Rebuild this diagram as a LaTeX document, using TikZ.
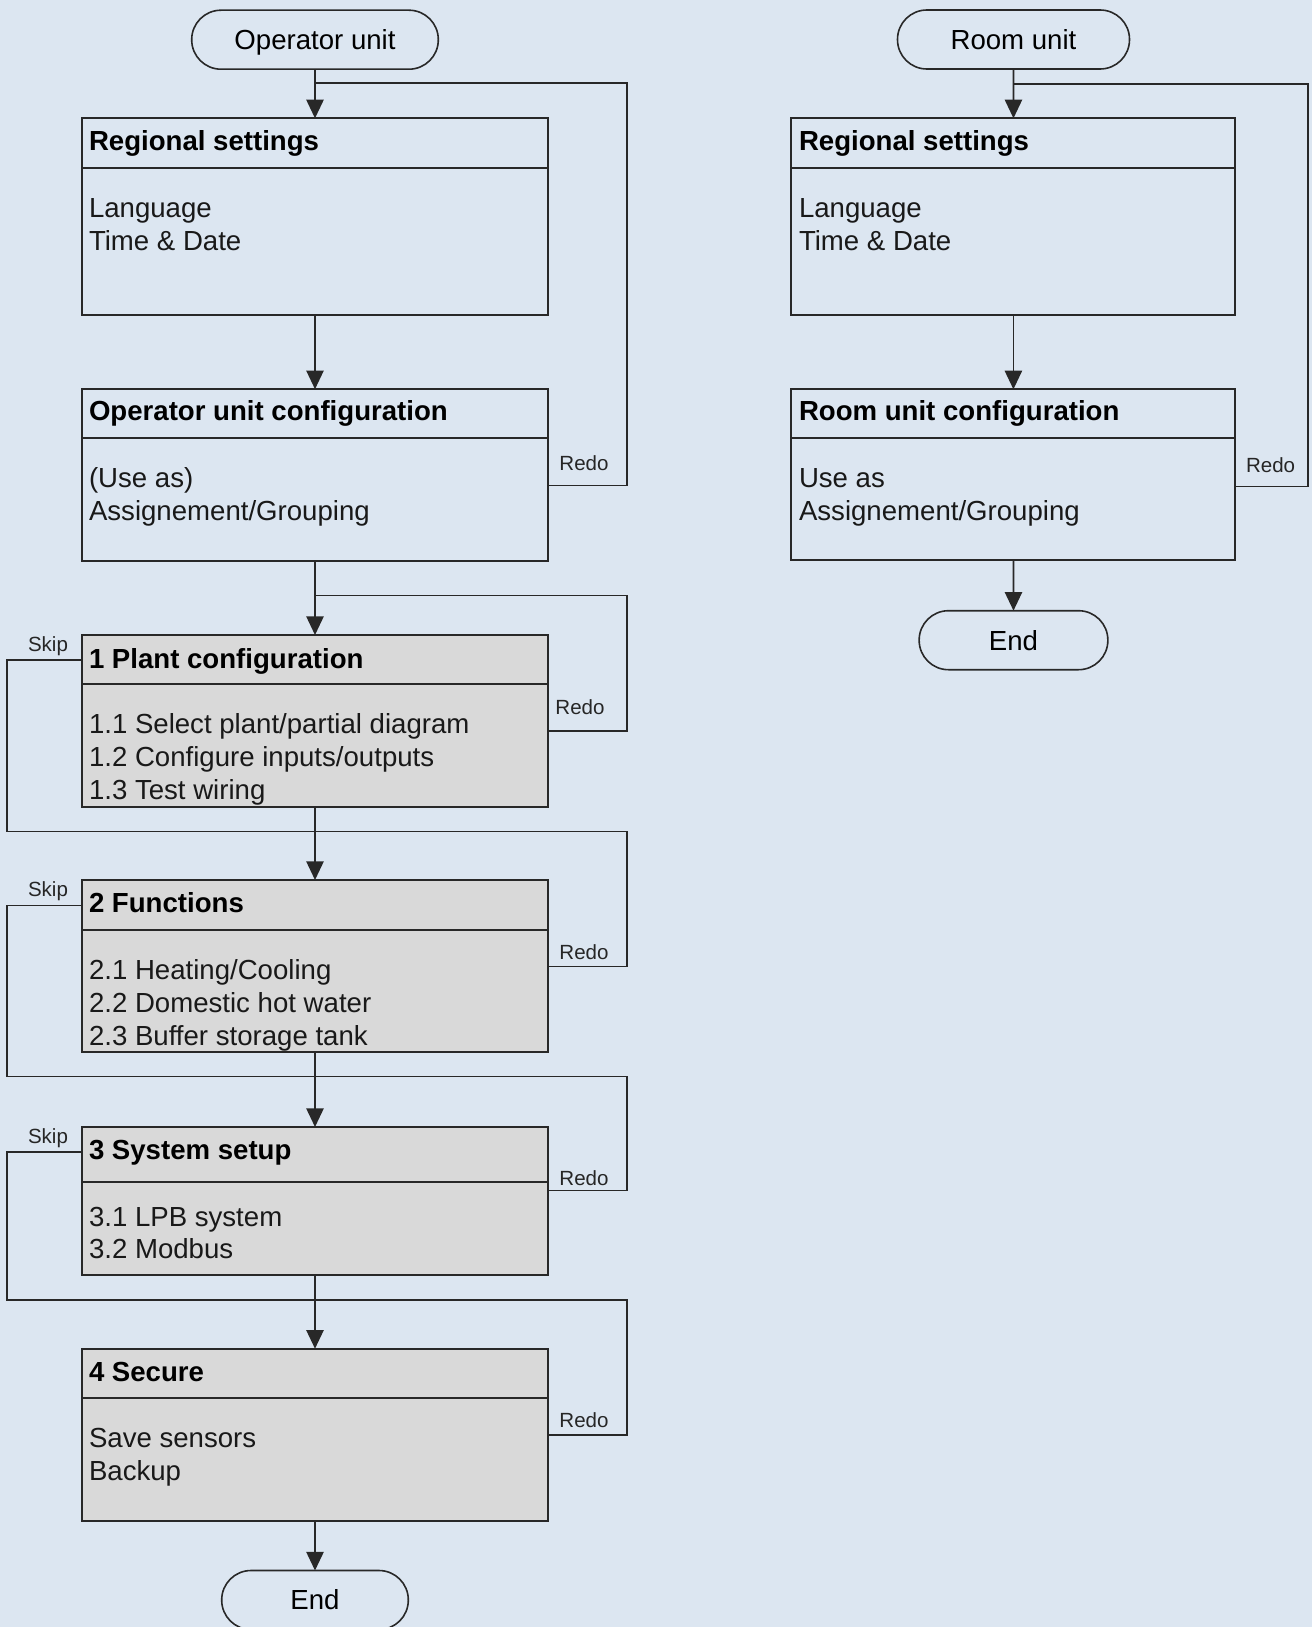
\documentclass[tikz,border=0pt]{standalone}
\usepackage{fontspec}
\setmainfont{Liberation Sans}
\usetikzlibrary{arrows.meta}
\definecolor{bgc}{RGB}{220,230,241}
\definecolor{boxg}{RGB}{217,217,217}
\definecolor{linec}{RGB}{40,40,40}
\begin{document}
\begin{tikzpicture}[x=0.75pt,y=-0.75pt,
  every node/.style={inner sep=0pt, outer sep=0pt},
  bx/.style n args={2}{draw=linec, line width=1.5pt, minimum width=#1*0.75pt, minimum height=#2*0.75pt, anchor=north west},
  gbx/.style={fill=boxg},
  hdr/.style={draw=linec, line width=1.5pt},
  term/.style={draw=linec, line width=1.2pt, rounded corners=22pt, minimum height=44.25pt,
    font=\fontsize{20.7pt}{24.6pt}\selectfont, text height=14.9pt, text depth=0pt},
  ttl/.style={anchor=base west, font=\fontsize{20.7pt}{24.6pt}\selectfont\bfseries},
  txt/.style={anchor=base west, font=\fontsize{20.7pt}{24.6pt}\selectfont, text=black!90},
  lbl/.style={font=\fontsize{15.4pt}{18pt}\selectfont, text=black!85},
  ln/.style={draw=linec, line width=1.2pt},
  arr/.style={ln, -{Triangle[width=13pt,length=14pt]}}
]
\fill[bgc] (0,0) rectangle (1312,1627);
\useasboundingbox (0,0) rectangle (1312,1627);
\clip (0,0) rectangle (1312,1627);

% ---------------- left column ----------------
\node[term, minimum width=246.6*0.75pt] (ou) at (315,39.7) {Operator unit};

\node[bx={466}{196.2}] (rs1) at (82,118.3) {};
\coordinate (h1) at (0,167.6);
\draw[hdr] (rs1.west |- h1) -- (rs1.east |- h1);
\node[ttl] (rs1t) at (89,150.6) {Regional settings};
\node[txt] (rs1a) at (89,217.5) {Language};
\node[txt] (rs1b) at (89,250.4) {Time \& Date};

\node[bx={466}{171.3}] (ouc) at (82,389.2) {};
\coordinate (h2) at (0,437.7);
\draw[hdr] (ouc.west |- h2) -- (ouc.east |- h2);
\node[ttl] (ouct) at (89,420.7) {Operator unit configuration};
\node[txt] (ouca) at (89,487.3) {(Use as)};
\node[txt] (oucb) at (89,520.3) {Assignement/Grouping};

\node[bx={466}{171.6}, gbx] (b1) at (82,635) {};
\coordinate (h3) at (0,684.3);
\draw[hdr] (b1.west |- h3) -- (b1.east |- h3);
\node[ttl] (b1t) at (89,668) {1 Plant configuration};
\node[txt] (b1a) at (89,733.6) {1.1 Select plant/partial diagram};
\node[txt] (b1b) at (89,766.4) {1.2 Configure inputs/outputs};
\node[txt] (b1c) at (89,799.2) {1.3 Test wiring};

\node[bx={466}{172.4}, gbx] (b2) at (82,880) {};
\coordinate (h4) at (0,930);
\draw[hdr] (b2.west |- h4) -- (b2.east |- h4);
\node[ttl] (b2t) at (89,912.6) {2 Functions};
\node[txt] (b2a) at (89,979.8) {2.1 Heating/Cooling};
\node[txt] (b2b) at (89,1012.6) {2.2 Domestic hot water};
\node[txt] (b2c) at (89,1045.4) {2.3 Buffer storage tank};

\node[bx={466}{147.7}, gbx] (b3) at (82,1127) {};
\coordinate (h5) at (0,1181.9);
\draw[hdr] (b3.west |- h5) -- (b3.east |- h5);
\node[ttl] (b3t) at (89,1159.8) {3 System setup};
\node[txt] (b3a) at (89,1226) {3.1 LPB system};
\node[txt] (b3b) at (89,1258.8) {3.2 Modbus};

\node[bx={466}{172.7}, gbx] (b4) at (82,1348.7) {};
\coordinate (h6) at (0,1398.2);
\draw[hdr] (b4.west |- h6) -- (b4.east |- h6);
\node[ttl] (b4t) at (89,1381.3) {4 Secure};
\node[txt] (b4a) at (89,1447.6) {Save sensors};
\node[txt] (b4b) at (89,1480.4) {Backup};

\node[term, minimum width=186.6*0.75pt] (endL) at (315,1600) {End};

% main arrows
\draw[arr] (ou) -- (rs1);
\draw[arr] (rs1) -- (ouc);
\draw[arr] (ouc) -- (b1);
\draw[arr] (b1) -- (b2);
\draw[arr] (b2) -- (b3);
\draw[arr] (b3) -- (b4);
\draw[arr] (b4) -- (endL);

% redo loops
\coordinate (jL0) at (315,83.2);
\coordinate (cL0) at (627,83.2);
\coordinate (dL0) at (627,485.4);
\draw[ln] (ouc.east |- dL0) -- (dL0) -- (cL0) -- (jL0);
\node[lbl] (rdo0) at (584,463) {Redo};

\coordinate (jL1) at (315,595.5);
\coordinate (cL1) at (627,595.5);
\coordinate (dL1) at (627,731);
\draw[ln] (b1.east |- dL1) -- (dL1) -- (cL1) -- (jL1);
\node[lbl] (rdo1) at (580,707) {Redo};

% skip + redo loops
\coordinate (s1a) at (7,660);
\coordinate (s1b) at (7,831.4);
\coordinate (s1c) at (627,831.4);
\coordinate (s1d) at (627,966.3);
\draw[ln] (b1.west |- s1a) -- (s1a) -- (s1b) -- (s1c) -- (s1d) -- (b2.east |- s1d);
\node[lbl] (skp1) at (48,646) {Skip};
\node[lbl] (rdo2) at (584,952.6) {Redo};

\coordinate (s2a) at (7,905.4);
\coordinate (s2b) at (7,1076.5);
\coordinate (s2c) at (627,1076.5);
\coordinate (s2d) at (627,1190.3);
\draw[ln] (b2.west |- s2a) -- (s2a) -- (s2b) -- (s2c) -- (s2d) -- (b3.east |- s2d);
\node[lbl] (skp2) at (48,891) {Skip};
\node[lbl] (rdo3) at (584,1177.7) {Redo};

\coordinate (s3a) at (7,1152.2);
\coordinate (s3b) at (7,1299.8);
\coordinate (s3c) at (627,1299.8);
\coordinate (s3d) at (627,1434.8);
\draw[ln] (b3.west |- s3a) -- (s3a) -- (s3b) -- (s3c) -- (s3d) -- (b4.east |- s3d);
\node[lbl] (skp3) at (48,1138.6) {Skip};
\node[lbl] (rdo4) at (584,1420.2) {Redo};

% ---------------- right column ----------------
\node[term, minimum width=232*0.75pt] (ru) at (1013.5,39.5) {Room unit};

\node[bx={444}{196.3}] (rs2) at (791.4,118.3) {};
\coordinate (h7) at (0,167.9);
\draw[hdr] (rs2.west |- h7) -- (rs2.east |- h7);
\node[ttl] (rs2t) at (799,150.6) {Regional settings};
\node[txt] (rs2a) at (799,217.6) {Language};
\node[txt] (rs2b) at (799,250.4) {Time \& Date};

\node[bx={444}{171}] (ruc) at (791.4,389.3) {};
\coordinate (h8) at (0,437.5);
\draw[hdr] (ruc.west |- h8) -- (ruc.east |- h8);
\node[ttl] (ruct) at (799,420.7) {Room unit configuration};
\node[txt] (ruca) at (799,487.7) {Use as};
\node[txt] (rucb) at (799,520.7) {Assignement/Grouping};

\node[term, minimum width=188.7*0.75pt] (endR) at (1013.5,640.2) {End};

\draw[arr] (ru) -- (rs2);
\draw[arr] (rs2) -- (ruc);
\draw[arr] (ruc) -- (endR);

\coordinate (jR0) at (1013.5,84);
\coordinate (cR0) at (1307.7,84);
\coordinate (dR0) at (1307.7,486.6);
\draw[ln] (ruc.east |- dR0) -- (dR0) -- (cR0) -- (jR0);
\node[lbl] (rdoR) at (1270.6,465) {Redo};
\end{tikzpicture}
\end{document}
